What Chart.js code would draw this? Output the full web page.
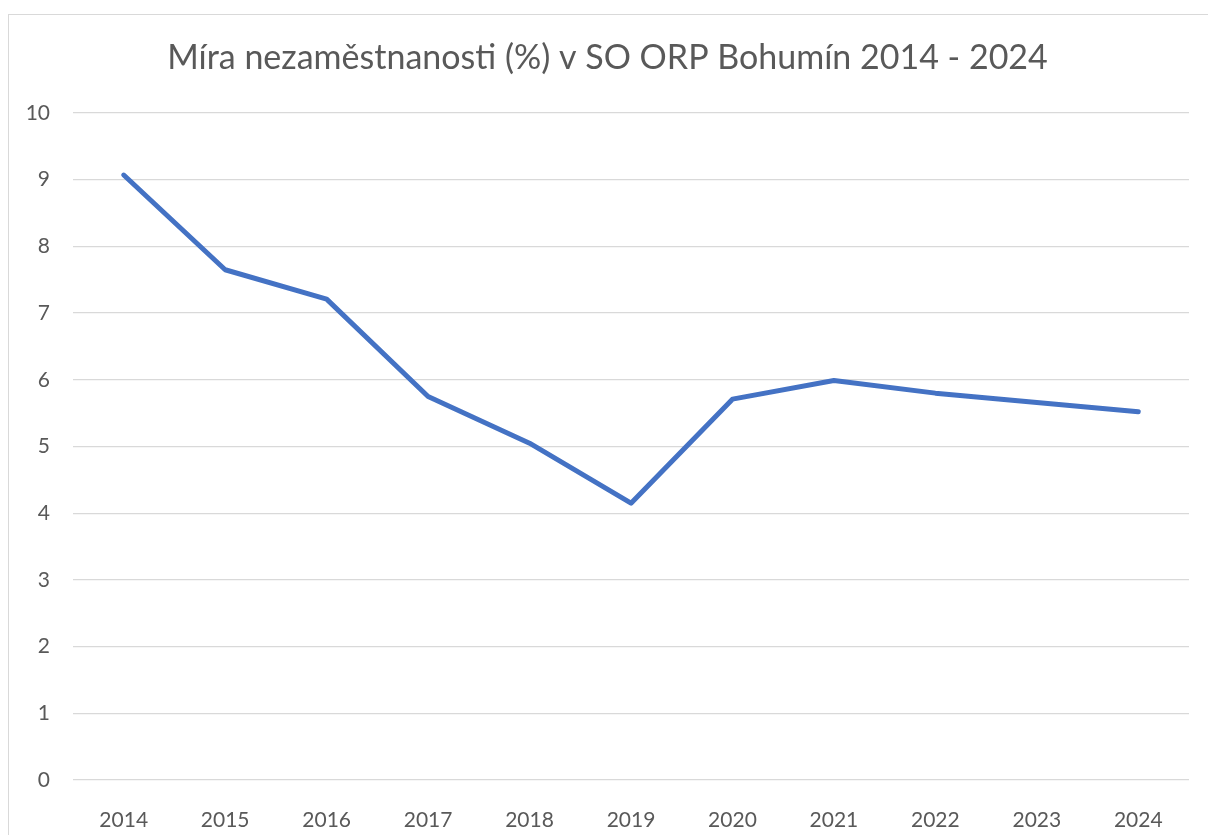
<!DOCTYPE html>
<html lang="cs">
<head>
<meta charset="utf-8">
<title>Míra nezaměstnanosti</title>
<script src="https://cdn.jsdelivr.net/npm/chart.js@4/dist/chart.umd.min.js"></script>
<style>
  html, body { margin: 0; padding: 0; overflow: hidden; background: #fff; }
  #box {
    position: absolute;
    left: 8px;
    top: 14px;
    width: 1250px;
    height: 840px;
    border: 1px solid #d9d9d9;
    background: #fff;
  }
</style>
</head>
<body>
<div id="box"><canvas id="chart"></canvas></div>
<script>
const years = ["2014", "2015", "2016", "2017", "2018", "2019", "2020", "2021", "2022", "2023", "2024"];
const unemployment = [9.07, 7.65, 7.21, 5.75, 5.05, 4.15, 5.71, 5.99, 5.80, 5.66, 5.52];
const titleText = "Míra nezaměstnanosti (%) v SO ORP Bohumín 2014 - 2024";

const textColor = "#595959";
const gridColor = "#d9d9d9";
const fontFamily = "Lato, 'Open Sans', sans-serif";

function setupChart(ctx) {
  return new Chart(ctx, {
    type: "line",
    data: {
      labels: years,
      datasets: [{
        label: "Míra nezaměstnanosti",
        data: unemployment,
        borderColor: "#4472c4",
        borderWidth: 5,
        pointRadius: 0,
        borderCapStyle: "round",
        borderJoinStyle: "round",
        tension: 0,
      }],
    },
    options: {
      responsive: true,
      maintainAspectRatio: false,
      animation: false,
      layout: { padding: { left: 17, right: 70, top: 0, bottom: 0 } },
      plugins: {
        legend: { display: false },
        tooltip: { enabled: false },
        title: {
          display: true,
          text: titleText,
          color: textColor,
          font: { family: fontFamily, size: 34, weight: "normal" },
          padding: { top: 22.5, bottom: 34.7 },
        },
      },
      scales: {
        x: {
          offset: true,
          grid: { display: false },
          border: { display: false },
          ticks: {
            color: textColor,
            font: { family: fontFamily, size: 21 },
            padding: 20,
            maxRotation: 0,
          },
          afterFit: (scale) => { scale.height = 75; },
        },
        y: {
          min: 0,
          max: 10,
          grid: { color: gridColor, lineWidth: 1.3, drawTicks: false },
          border: { display: false },
          ticks: {
            stepSize: 1,
            color: textColor,
            font: { family: fontFamily, size: 21 },
            padding: 23,
          },
          afterFit: (scale) => { scale.width = 47; },
        },
      },
    },
  });
}

setupChart(document.getElementById("chart").getContext("2d"));
</script>
</body>
</html>
